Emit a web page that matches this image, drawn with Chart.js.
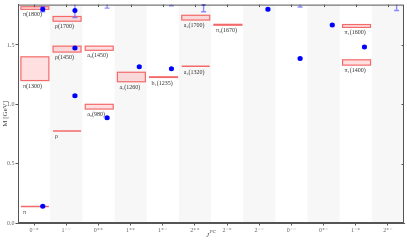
<!DOCTYPE html>
<html><head><meta charset="utf-8">
<script src="https://cdn.jsdelivr.net/npm/chart.js@4/dist/chart.umd.min.js"></script>
<style>html,body{margin:0;padding:0;background:#fff}</style>
</head><body><canvas id="c" width="407" height="240"></canvas>
<script>
const categories = ['0⁻⁺','1⁻⁻','0⁺⁺','1⁺⁺','1⁺⁻','2⁺⁺','2⁻⁺','2⁻⁻','0⁻⁻','0⁺⁻','1⁻⁺','2⁺⁻'];
const yTicks = [0.0, 0.5, 1.0, 1.5];
// experimental states (red boxes / lines)
const expNames = ['π','π(1300)','π(1800)','ρ','ρ(1450)','ρ(1700)','a₀(980)','a₀(1450)','a₁(1260)','b₁(1235)','a₂(1320)','a₂(1700)','π₂(1670)','π₁(1600)','π₁(1400)'];
const expCat  = [0, 0, 0, 1, 1, 1, 2, 2, 3, 4, 5, 5, 6, 10, 10];
const expLow  = [0.138, 1.20, 1.800, 0.775, 1.440, 1.700, 0.960, 1.455, 1.190, 1.226, 1.316, 1.710, 1.666, 1.648, 1.330];
const expHigh = [0.138, 1.40, 1.822, 0.775, 1.490, 1.740, 1.000, 1.490, 1.270, 1.232, 1.320, 1.750, 1.674, 1.672, 1.375];
// lattice results (blue points with errors)
const latCat  = [0, 0, 1, 1, 1, 2, 2, 3, 4, 4, 5, 7, 8, 8, 9, 10, 11];
const latMass = [0.142, 1.800, 1.072, 1.475, 1.790, 0.886, 1.880, 1.317, 1.300, 1.920, 1.850, 1.800, 1.386, 1.880, 1.669, 1.483, 1.900];
const latErr  = [0.005, 0.020, 0.008, 0.008, 0.060, 0.008, 0.070, 0.008, 0.008, 0.090, 0.070, 0.010, 0.008, 0.060, 0.008, 0.008, 0.110];

const BOX_L = -0.41, BOX_R = 0.46, PT_OFF = 0.27;
const SERIF = '"Liberation Serif", "DejaVu Serif", serif';

const latData = latCat.map((c, i) => ({x: c + PT_OFF, y: latMass[i]}));

const drawPlugin = {
  id: 'drawPlugin',
  beforeDatasetsDraw(chart) {
    const {ctx, chartArea: a, scales: {x, y}} = chart;
    ctx.save();
    ctx.beginPath(); ctx.rect(a.left, a.top, a.right - a.left, a.bottom - a.top); ctx.clip();
    ctx.fillStyle = '#f7f7f7';
    categories.forEach((c, i) => {
      if (i % 2 === 1) {
        const l = x.getPixelForValue(i - 0.5), r = x.getPixelForValue(i + 0.5);
        ctx.fillRect(l, a.top, r - l, a.bottom - a.top);
      }
    });
    expNames.forEach((n, i) => {
      const l = x.getPixelForValue(expCat[i] + BOX_L), r = x.getPixelForValue(expCat[i] + BOX_R);
      const t = y.getPixelForValue(expHigh[i]), b = y.getPixelForValue(expLow[i]);
      if (b - t < 0.5) {
        ctx.strokeStyle = '#f46a6a'; ctx.lineWidth = 1.5;
        ctx.beginPath(); ctx.moveTo(l, t); ctx.lineTo(r, t); ctx.stroke();
      } else {
        ctx.fillStyle = 'rgba(255,80,80,0.18)';
        ctx.fillRect(l, t, r - l, b - t);
        ctx.strokeStyle = '#f46a6a'; ctx.lineWidth = 1.2;
        ctx.strokeRect(l, t, r - l, b - t);
      }
    });
    ctx.fillStyle = '#333'; ctx.font = '6px ' + SERIF;
    ctx.textAlign = 'left'; ctx.textBaseline = 'middle';
    expNames.forEach((n, i) => {
      const l = x.getPixelForValue(expCat[i] + BOX_L);
      const b = y.getPixelForValue(expLow[i]);
      ctx.fillText(n, l + 2, b + 5.5);
    });
    ctx.strokeStyle = 'rgba(80,80,255,0.65)'; ctx.lineWidth = 1.4;
    latCat.forEach((c, i) => {
      const px = x.getPixelForValue(c + PT_OFF);
      const t = y.getPixelForValue(latMass[i] + latErr[i]), b = y.getPixelForValue(latMass[i] - latErr[i]);
      ctx.beginPath();
      ctx.moveTo(px, t); ctx.lineTo(px, b);
      ctx.moveTo(px - 2.5, t); ctx.lineTo(px + 2.5, t);
      ctx.moveTo(px - 2.5, b); ctx.lineTo(px + 2.5, b);
      ctx.stroke();
    });
    ctx.restore();
  },
  afterDraw(chart) {
    const {ctx, chartArea: a, scales: {x, y}} = chart;
    ctx.save();
    ctx.strokeStyle = '#555'; ctx.lineWidth = 1;
    ctx.strokeRect(a.left + 0.5, a.top + 0.5, a.right - a.left - 1, a.bottom - a.top - 1);
    ctx.beginPath();
    categories.forEach((c, i) => {
      const px = Math.round(x.getPixelForValue(i)) + 0.5;
      ctx.moveTo(px, a.top); ctx.lineTo(px, a.top + 2.5);
    });
    yTicks.forEach(v => {
      const py = Math.round(y.getPixelForValue(v)) + 0.5;
      ctx.moveTo(a.right, py); ctx.lineTo(a.right - 2.5, py);
    });
    ctx.stroke();
    ctx.fillStyle = '#444';
    ctx.textBaseline = 'middle';
    const cx = (a.left + a.right) / 2;
    ctx.font = 'italic 7px ' + SERIF; ctx.textAlign = 'right';
    ctx.fillText('J', cx - 2, 235);
    ctx.font = 'italic 5px ' + SERIF; ctx.textAlign = 'left';
    ctx.fillText('PC', cx - 1.5, 232);
    ctx.translate(5, (a.top + a.bottom) / 2);
    ctx.rotate(-Math.PI / 2);
    ctx.textAlign = 'center';
    ctx.font = '7px ' + SERIF;
    ctx.fillText('M [GeV]', 0, 0);
    ctx.restore();
  }
};

new Chart(document.getElementById('c'), {
  type: 'scatter',
  data: {datasets: [{
    data: latData,
    pointRadius: 2.5, pointHoverRadius: 2.5,
    pointBackgroundColor: '#0000ff', pointBorderWidth: 0,
    clip: {left: 0, right: 0, top: 0, bottom: 0}
  }]},
  options: {
    responsive: false, animation: false, devicePixelRatio: 1,
    layout: {padding: {top: 2, right: 3, left: 0, bottom: 0}},
    plugins: {legend: {display: false}, tooltip: {enabled: false}},
    scales: {
      x: {
        type: 'linear', min: -0.5, max: 11.5,
        afterFit: s => { s.height = 17; },
        afterBuildTicks: s => { s.ticks = categories.map((c, i) => ({value: i})); },
        ticks: {autoSkip: false, maxRotation: 0, padding: 1, color: '#666',
          font: {family: SERIF, size: 6},
          callback: v => categories[v]},
        grid: {drawOnChartArea: false, tickLength: 2.5, tickColor: '#555'},
        border: {color: '#555'}
      },
      y: {
        min: 0, max: 1.84,
        afterFit: s => { s.width = 18; },
        afterBuildTicks: s => { s.ticks = yTicks.map(v => ({value: v})); },
        ticks: {padding: 1, color: '#666', font: {family: SERIF, size: 6},
          callback: v => v.toFixed(1)},
        grid: {drawOnChartArea: false, tickLength: 2.5, tickColor: '#555'},
        border: {color: '#555'}
      }
    }
  },
  plugins: [drawPlugin]
});
</script>
</body></html>
